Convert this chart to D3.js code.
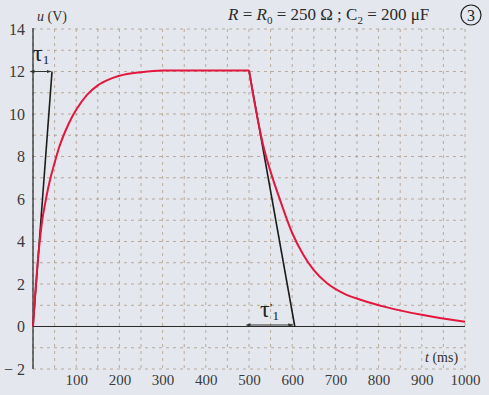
<!DOCTYPE html>
<html>
<head>
<meta charset="utf-8">
<script src="https://cdn.jsdelivr.net/npm/d3@7"></script>
<style>
  html, body { margin: 0; padding: 0; background: #e4e8ee; }
  svg { display: block; font-family: "Liberation Serif", "DejaVu Serif", serif; }
  svg text { font-family: "Liberation Serif", "DejaVu Serif", serif; }
</style>
</head>
<body>
<div id="chart"></div>
<script>
// charging curve u(t) (t in ms, u in V)
const chargeT = [0, 5, 10, 20, 30, 40, 50, 60, 75, 90, 100, 125, 150, 175, 200, 250, 300, 400, 500];
const chargeU = [0, 1.5, 2.8, 4.8, 6.0, 6.95, 7.7, 8.4, 9.2, 9.85, 10.2, 10.9, 11.35, 11.62, 11.8, 11.97, 12.05, 12.05, 12.05];

// discharge curve
const dischargeT = [500, 515, 532, 556, 572, 600, 625, 650, 680, 720, 760, 820, 900, 1000];
const dischargeU = [12.05, 10.3, 8.6, 6.9, 5.95, 4.4, 3.4, 2.65, 2.05, 1.55, 1.25, 0.9, 0.55, 0.22];

// tangents used to read the time constants
const tangent1 = [[0, 0], [44, 12]];
const tangent2 = [[500, 12.05], [606, 0]];

const yTicks = [-2, 0, 2, 4, 6, 8, 10, 12, 14];
const xTicks = [100, 200, 300, 400, 500, 600, 700, 800, 900, 1000];

const W = 489, H = 395;
const svg = d3.select("#chart").append("svg")
    .attr("width", W)
    .attr("height", H);

svg.append("rect").attr("width", W).attr("height", H).attr("fill", "#e4e8ee");

const x = d3.scaleLinear().domain([0, 1000]).range([33, 465]);
const y = d3.scaleLinear().domain([-2, 14]).range([369, 29]);

// dashed grid
const grid = svg.append("g")
    .attr("stroke", "#a8917a")
    .attr("stroke-opacity", 0.8)
    .attr("stroke-width", 0.9)
    .attr("stroke-dasharray", "3,4");
grid.selectAll("line.v").data(x.ticks(20)).join("line")
    .attr("x1", d => x(d)).attr("x2", d => x(d))
    .attr("y1", y(14)).attr("y2", y(-2));
grid.selectAll("line.h").data(y.ticks(16)).join("line")
    .attr("x1", x(0)).attr("x2", x(1000))
    .attr("y1", d => y(d)).attr("y2", d => y(d));

// axes lines
svg.append("line")
    .attr("x1", x(0)).attr("x2", x(0))
    .attr("y1", y(14) - 1).attr("y2", y(-2))
    .attr("stroke", "#222").attr("stroke-width", 1.2);
svg.append("line")
    .attr("x1", x(0)).attr("x2", x(1000))
    .attr("y1", y(0)).attr("y2", y(0))
    .attr("stroke", "#2a2a2a").attr("stroke-width", 1.2);

// tick labels
const yAxis = svg.append("g")
    .attr("transform", `translate(${x(0)},0)`)
    .call(d3.axisLeft(y).tickValues(yTicks).tickSize(0).tickPadding(8)
        .tickFormat(d => d < 0 ? "\u2212 " + Math.abs(d) : d));
yAxis.select(".domain").remove();
yAxis.selectAll("text")
    .attr("font-size", 16)
    .attr("font-family", "Liberation Serif")
    .attr("fill", "#3a3a3a");

const xAxis = svg.append("g")
    .attr("transform", `translate(0,${y(-2)})`)
    .call(d3.axisBottom(x).tickValues(xTicks).tickSize(0).tickPadding(5)
        .tickFormat(d3.format("d")));
xAxis.select(".domain").remove();
xAxis.selectAll("text")
    .attr("font-size", 15)
    .attr("font-family", "Liberation Serif")
    .attr("fill", "#3a3a3a");

// arrow markers
const defs = svg.append("defs");
["start", "end"].forEach(k => {
    defs.append("marker")
        .attr("id", "arr-" + k)
        .attr("viewBox", "0 0 10 10")
        .attr("refX", k === "end" ? 9 : 1).attr("refY", 5)
        .attr("markerWidth", 5).attr("markerHeight", 5)
        .attr("orient", "auto-start-reverse")
        .append("path").attr("d", "M0,1.5 L10,5 L0,8.5 z").attr("fill", "#333");
});

// tangent lines
const line = d3.line().x(d => x(d[0])).y(d => y(d[1]));
[tangent1, tangent2].forEach(t => {
    svg.append("path")
        .datum(t)
        .attr("fill", "none")
        .attr("stroke", "#1c1c1c")
        .attr("stroke-width", 1.6)
        .attr("d", line);
});

// tau arrows
svg.append("line")
    .attr("x1", x(0) + 1).attr("x2", x(tangent1[1][0]) - 1)
    .attr("y1", y(12)).attr("y2", y(12))
    .attr("stroke", "#333").attr("stroke-width", 1)
    .attr("marker-start", "url(#arr-start)")
    .attr("marker-end", "url(#arr-end)");
svg.append("line")
    .attr("x1", x(500) + 1).attr("x2", x(tangent2[1][0]) - 2)
    .attr("y1", y(0) - 1.5).attr("y2", y(0) - 1.5)
    .attr("stroke", "#333").attr("stroke-width", 1)
    .attr("marker-start", "url(#arr-start)")
    .attr("marker-end", "url(#arr-end)");

// red curves
const curve = d3.line()
    .x(d => x(d[0])).y(d => y(d[1]))
    .curve(d3.curveMonotoneX);
[[chargeT, chargeU], [dischargeT, dischargeU]].forEach(([ts, us]) => {
    svg.append("path")
        .datum(ts.map((t, i) => [t, us[i]]))
        .attr("fill", "none")
        .attr("stroke", "#e3173e")
        .attr("stroke-width", 2)
        .attr("d", curve);
});

// labels
const tau1 = svg.append("text")
    .attr("x", 33).attr("y", 61)
    .attr("font-size", 24).attr("fill", "#222");
tau1.append("tspan").text("τ");
tau1.append("tspan").attr("dy", 3).attr("font-size", 13).text("1");

const tau2 = svg.append("text")
    .attr("x", 260).attr("y", 317)
    .attr("font-size", 24).attr("fill", "#222");
tau2.append("tspan").text("τ");
tau2.append("tspan").attr("dy", -5).attr("font-size", 13).text("′");
tau2.append("tspan").attr("dy", 8).attr("font-size", 13).text("1");

const uLab = svg.append("text")
    .attr("x", 37).attr("y", 21)
    .attr("font-size", 14).attr("fill", "#333");
uLab.append("tspan").attr("font-style", "italic").text("u");
uLab.append("tspan").text(" (V)");

const tLab = svg.append("text")
    .attr("x", 425).attr("y", 362)
    .attr("font-size", 14).attr("fill", "#333");
tLab.append("tspan").attr("font-style", "italic").text("t");
tLab.append("tspan").text(" (ms)");

const title = svg.append("text")
    .attr("x", 228).attr("y", 20)
    .attr("font-size", 17).attr("fill", "#2a2a2a");
title.append("tspan").attr("font-style", "italic").text("R");
title.append("tspan").text(" = ");
title.append("tspan").attr("font-style", "italic").text("R");
title.append("tspan").attr("dy", 4).attr("font-size", 11).text("0");
title.append("tspan").attr("dy", -4).text(" = 250 Ω ; C");
title.append("tspan").attr("dy", 4).attr("font-size", 11).text("2");
title.append("tspan").attr("dy", -4).text(" = 200 μF");

svg.append("circle")
    .attr("cx", 471).attr("cy", 15).attr("r", 10)
    .attr("fill", "none").attr("stroke", "#222").attr("stroke-width", 1.2);
svg.append("text")
    .attr("x", 471).attr("y", 20.5)
    .attr("text-anchor", "middle")
    .attr("font-size", 16).attr("fill", "#222")
    .text("3");
</script>
</body>
</html>
